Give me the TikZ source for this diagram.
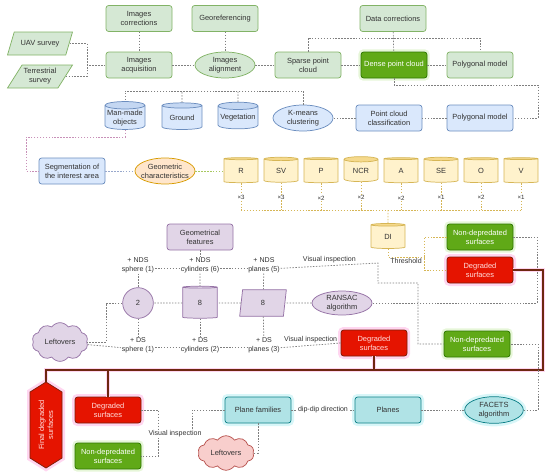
\documentclass[tikz,border=0pt]{standalone}
\usepackage{fontspec}
\setmainfont{Liberation Sans}
\usepackage{tikz}
\usetikzlibrary{shapes.geometric,shapes.symbols}

\definecolor{grnfill}{HTML}{D5E8D4}
\definecolor{grnline}{HTML}{82B366}
\definecolor{dgfill}{HTML}{60A917}
\definecolor{dgline}{HTML}{2D7600}
\definecolor{blufill}{HTML}{DAE8FC}
\definecolor{bluline}{HTML}{6C8EBF}
\definecolor{blutop}{HTML}{C4D7F2}
\definecolor{orafill}{HTML}{FFE6CC}
\definecolor{oraline}{HTML}{D79B00}
\definecolor{yelfill}{HTML}{FFF2CC}
\definecolor{yelline}{HTML}{D6B656}
\definecolor{yeltop}{HTML}{F5D98C}
\definecolor{purfill}{HTML}{E1D5E7}
\definecolor{purline}{HTML}{9673A6}
\definecolor{redfill}{HTML}{E51400}
\definecolor{redline}{HTML}{7A1E0A}
\definecolor{redtext}{HTML}{FFE0E0}
\definecolor{cyafill}{HTML}{B0E3E6}
\definecolor{cyaline}{HTML}{0E8088}
\definecolor{pnkfill}{HTML}{F8CECC}
\definecolor{pnkline}{HTML}{B85450}
\definecolor{brnline}{HTML}{6E2710}
\definecolor{lnkgray}{HTML}{7F7F7F}
\definecolor{lnkpink}{HTML}{C890B8}
\definecolor{lnkblue}{HTML}{98A8CC}
\definecolor{lnkgreen}{HTML}{A8C860}
\definecolor{halored}{HTML}{FFD6F0}
\definecolor{halocya}{HTML}{D8F6F8}
\definecolor{halogrn}{HTML}{E6F6D8}

\begin{document}
\begin{tikzpicture}[x=0.75pt,y=0.75pt,yscale=-1,xscale=1,
  every node/.style={font=\fontsize{5.6}{6.8}\selectfont, align=center, inner sep=0.75pt, line width=0.55pt, text=black!80},
  box/.style={rectangle, rounded corners=2pt, minimum width=49.5pt, minimum height=19.5pt},
  grnbox/.style={box, fill=grnfill, draw=grnline},
  dgbox/.style={box, fill=dgfill, draw=dgline, text=white, preaction={draw=halogrn, line width=4pt}},
  redbox/.style={box, fill=redfill, draw=redline, text=redtext, preaction={draw=halored, line width=4.5pt}},
  blubox/.style={box, fill=blufill, draw=bluline},
  purbox/.style={box, fill=purfill, draw=purline},
  cyabox/.style={box, fill=cyafill, draw=cyaline, preaction={draw=halocya, line width=4.5pt}},
  oval/.style={ellipse, inner xsep=-3pt, inner ysep=-1pt, minimum width=45pt, minimum height=19.5pt},
  grnell/.style={oval, fill=grnfill, draw=grnline},
  bluell/.style={oval, fill=blufill, draw=bluline},
  oraell/.style={oval, fill=orafill, draw=oraline},
  purell/.style={oval, fill=purfill, draw=purline, minimum height=18pt},
  cyaell/.style={oval, fill=cyafill, draw=cyaline, minimum width=44pt, minimum height=20pt, preaction={draw=halocya, line width=4.5pt}},
  can/.style={cylinder, shape border rotate=90, aspect=0.2, cylinder uses custom fill, inner sep=0.5pt},
  blucyl/.style={can, draw=bluline, cylinder body fill=blufill, cylinder end fill=blutop, minimum width=30pt, minimum height=20pt},
  yelcyl/.style={can, draw=yelline, cylinder body fill=yelfill, cylinder end fill=yeltop, aspect=0.3, minimum width=25.5pt, minimum height=18.75pt},
  purcyl/.style={can, draw=purline, cylinder body fill=purfill, cylinder end fill=purfill, aspect=0.35, minimum width=26pt, minimum height=24pt},
  grnpar/.style={trapezium, trapezium left angle=50, trapezium right angle=130, trapezium stretches body, fill=grnfill, draw=grnline, minimum width=48.75pt, minimum height=17.25pt, inner sep=0.5pt},
  purpar/.style={trapezium, trapezium left angle=66, trapezium right angle=114, trapezium stretches body, fill=purfill, draw=purline, minimum width=35pt, minimum height=20pt, inner sep=0.5pt},
  purcirc/.style={circle, fill=purfill, draw=purline, minimum size=23pt, inner sep=0pt},
  pnkcloud/.style={cloud, cloud puffs=10, cloud puff arc=110, aspect=1.5, fill=pnkfill, draw=pnkline, minimum width=42pt, minimum height=23pt, inner sep=0pt},
  purcloud/.style={cloud, cloud puffs=10, cloud puff arc=110, aspect=1.3, fill=purfill, draw=purline, minimum width=42pt, minimum height=28.5pt, inner sep=0pt},
  finalsig/.style={signal, signal to=east and west, signal pointer angle=116, fill=redfill, draw=redline, text=redtext, minimum width=64.5pt, minimum height=24pt, rotate=90, inner sep=0.5pt, preaction={draw=halored, line width=4.5pt}},
  lbl/.style={font=\fontsize{5.3}{6.4}\selectfont, fill=white, inner sep=0.5pt},
  mult/.style={font=\fontsize{4.6}{5.5}\selectfont, fill=white, inner sep=0.4pt},
  conn/.style={draw=lnkgray, line width=0.55pt, dash pattern=on 1.1pt off 1.1pt},
  yconn/.style={conn, draw=yelline},
  pconn/.style={conn, draw=lnkpink},
  sconn/.style={conn, draw=lnkblue},
  gconn/.style={conn, draw=lnkgreen},
  bconn/.style={draw=brnline, line width=0.9pt, preaction={draw=halored, line width=3.5pt}}
]
\useasboundingbox (0,0) rectangle (550,475);

% Photogrammetry
\node[grnbox] (imgcorr) at (139,18.5) {Images\\corrections};
\node[grnbox] (georef) at (225,18.5) {Georeferencing};
\node[grnbox] (datacorr) at (393,18.5) {Data corrections};
\node[grnpar] (uav) at (40,43.5) {UAV survey};
\node[grnpar] (terr) at (40,76.5) {Terrestrial\\survey};
\node[grnbox] (imgacq) at (139,65) {Images\\acquisition};
\node[grnell] (imgalign) at (225,65) {Images\\alignment};
\node[grnbox] (sparse) at (308,65) {Sparse point\\cloud};
\node[dgbox] (dense) at (394,65) {Dense point cloud};
\node[grnbox] (poly1) at (480,65) {Polygonal model};

% Classification
\node[blucyl] (manmade) at (125,118) {Man-made\\objects};
\node[blucyl] (ground) at (182,118) {Ground};
\node[blucyl] (veg) at (238,118) {Vegetation};
\node[bluell] (kmeans) at (303,118) {K-means\\clustering};
\node[blubox] (pcc) at (389,118) {Point cloud\\classification};
\node[blubox] (poly2) at (480,118) {Polygonal model};

% Segmentation and indices
\node[blubox] (seg) at (72,171) {Segmentation of\\the interest area};
\node[oraell] (geochar) at (165,171) {Geometric\\characteristics};
\node[yelcyl] (cR) at (241,171) {R};
\node[yelcyl] (cSV) at (281,171) {SV};
\node[yelcyl] (cP) at (321,171) {P};
\node[yelcyl] (cNCR) at (361,171) {NCR};
\node[yelcyl] (cA) at (401,171) {A};
\node[yelcyl] (cSE) at (441,171) {SE};
\node[yelcyl] (cO) at (481,171) {O};
\node[yelcyl] (cV) at (521,171) {V};
\node[yelcyl] (DI) at (388,237) {DI};
\node[dgbox] (nd1) at (480,237) {Non-depredated\\surfaces};
\node[redbox] (deg1) at (480,270) {Degraded\\surfaces};

% Geometrical features
\node[purbox] (geofeat) at (200,237) {Geometrical\\features};
\node[lbl] (ndsS) at (138,265) {+ NDS\\sphere (1)};
\node[lbl] (ndsC) at (200,265) {+ NDS\\cylinders (6)};
\node[lbl] (ndsP) at (264,265) {+ NDS\\planes (5)};
\node[purcirc] (sph) at (138,303) {2};
\node[purcyl] (cyl) at (200,303) {\raisebox{-4pt}{8}};
\node[purpar] (pln) at (263,303) {8};
\node[purell] (ransac) at (342,303) {RANSAC\\algorithm};
\node[purcloud] (leftA) at (60,342) {Leftovers};
\node[lbl] (dsS) at (138,345) {+ DS\\sphere (1)};
\node[lbl] (dsC) at (200,345) {+ DS\\cylinders (2)};
\node[lbl] (dsP) at (264,345) {+ DS\\planes (3)};
\node[redbox] (deg2) at (374,343) {Degraded\\surfaces};
\node[dgbox] (nd2) at (477,344) {Non-depredated\\surfaces};

% FACETS
\node[finalsig] (final) at (46,425) {Final degraded\\surfaces};
\node[redbox] (deg3) at (108,410) {Degraded\\surfaces};
\node[dgbox] (nd3) at (108,456) {Non-depredated\\surfaces};
\node[cyabox] (pf) at (258,410) {Plane families};
\node[pnkcloud] (leftB) at (226,453) {Leftovers};
\node[cyabox] (planes) at (388,410) {Planes};
\node[cyaell] (facets) at (494,410) {FACETS\\algorithm};

% corner points
\coordinate (uj) at (87,65);
\coordinate (dj) at (394,38);
\coordinate (pj) at (538,85);
\coordinate (kj) at (182,91);
\coordinate (sj) at (26,137);
\coordinate (busL) at (241,210);
\coordinate (thrj) at (424,257);
\coordinate (vj1) at (378,263);
\coordinate (vj2) at (418,283);
\coordinate (rj) at (537,270);
\coordinate (ljA) at (106,303);
\coordinate (bj1) at (543,370);
\coordinate (vj3) at (158,434);
\coordinate (vj4) at (192,434);
\coordinate (fj) at (538,380);

%Straight Lines
\draw[conn] (uav.east) -| (uj);
\draw[conn] (terr.east) -| (uj) -- (imgacq.west);
\draw[conn] (imgcorr) -- (imgacq);
\draw[conn] (georef) -- (imgalign);
\draw[conn] (imgacq) -- (imgalign);
\draw[conn] (imgalign) -- (sparse);
\draw[conn] (sparse) -- (dense);
\draw[conn] (dense) -- (poly1);
\draw[conn] (datacorr) -- (dense);
\draw[conn] (sparse) |- (dj) -| (poly1);
\draw[conn] (dense) |- (pj) |- (poly2);
\draw[conn] (poly2) -- (pcc);
\draw[conn] (pcc) -- (kmeans);
\draw[conn] (kmeans) |- (kj) -| (manmade);
\draw[conn] (ground) -- (ground |- kj);
\draw[conn] (veg) -- (veg |- kj);
\draw[pconn] (manmade) |- (sj) |- (seg);
\draw[sconn] (seg) -- (geochar);
\draw[gconn] (geochar) -- (cR);

% indices
\draw[yconn] (cR) -- (cR |- busL) node[mult, pos=0.55] {×3};
\draw[yconn] (cSV) -- (cSV |- busL) node[mult, pos=0.55] {×3};
\draw[yconn] (cP) -- (cP |- busL) node[mult, pos=0.55] {×2};
\draw[yconn] (cNCR) -- (cNCR |- busL) node[mult, pos=0.55] {×2};
\draw[yconn] (cA) -- (cA |- busL) node[mult, pos=0.55] {×2};
\draw[yconn] (cSE) -- (cSE |- busL) node[mult, pos=0.55] {×1};
\draw[yconn] (cO) -- (cO |- busL) node[mult, pos=0.55] {×2};
\draw[yconn] (cV) -- (cV |- busL) node[mult, pos=0.55] {×1};
\draw[yconn] (busL) -- (cV |- busL);
\draw[yconn] (DI |- busL) -- (DI);
\draw[yconn] (DI) |- (thrj) node[pos=0.75, below, inner sep=1pt, font=\fontsize{5.3}{6.4}\selectfont] {Threshold};
\draw[yconn] (nd1.west) -| (thrj) |- (deg1.west);

% geometrical features
\draw[conn] (geofeat) -- (ndsC);
\draw[conn] ([yshift=2.5pt]ndsS.east) -- ([yshift=2.5pt]ndsC.west);
\draw[conn] ([yshift=2.5pt]ndsC.east) -- ([yshift=2.5pt]ndsP.west);
\draw[conn] ([yshift=2.5pt]ndsP.east) -- node[above, inner sep=1.5pt, font=\fontsize{5.3}{6.4}\selectfont] {Visual inspection} (vj1) -- (vj1 |- vj2) -- (vj2) |- (nd2.west);
\draw[conn] (ndsS) -- (sph);
\draw[conn] (ndsC) -- (cyl);
\draw[conn] (ndsP) -- (pln);
\draw[conn] (sph) -- (dsS);
\draw[conn] (cyl) -- (dsC);
\draw[conn] (pln) -- (dsP);
\draw[conn] (nd1.east) -| (rj) |- (ransac.east);
\draw[conn] (ransac) -- (pln);
\draw[conn] (pln) -- (cyl);
\draw[conn] (cyl) -- (sph);
\draw[conn] (sph) -- (ljA) |- (leftA);
\draw[conn] (leftA) -- ([yshift=2pt]dsS.west);
\draw[conn] ([yshift=2pt]dsS.east) -- ([yshift=2pt]dsC.west);
\draw[conn] ([yshift=2pt]dsC.east) -- ([yshift=2pt]dsP.west);
\draw[conn] ([yshift=2pt]dsP.east) -- node[above, inner sep=1.5pt, font=\fontsize{5.3}{6.4}\selectfont] {Visual inspection} (deg2.west);

% degraded surfaces
\draw[bconn] (deg1.east) -| (bj1) -| (final.east) (deg2.south) -- (deg2.south |- bj1) (deg3.north) -- (deg3.north |- bj1);

% FACETS
\draw[conn] (deg3.east) -| (vj3) |- (nd3.east);
\draw[conn] (pf.west) -| (vj4) -- node[lbl] {Visual inspection} (vj3);
\draw[conn] (pf.south) |- (leftB.east);
\draw[conn] (pf) -- node[lbl] {dip-dip direction} (planes);
\draw[conn] (planes) -- (facets);
\draw[conn] (facets.east) -| (fj) |- (nd2.east);

\end{tikzpicture}
\end{document}
